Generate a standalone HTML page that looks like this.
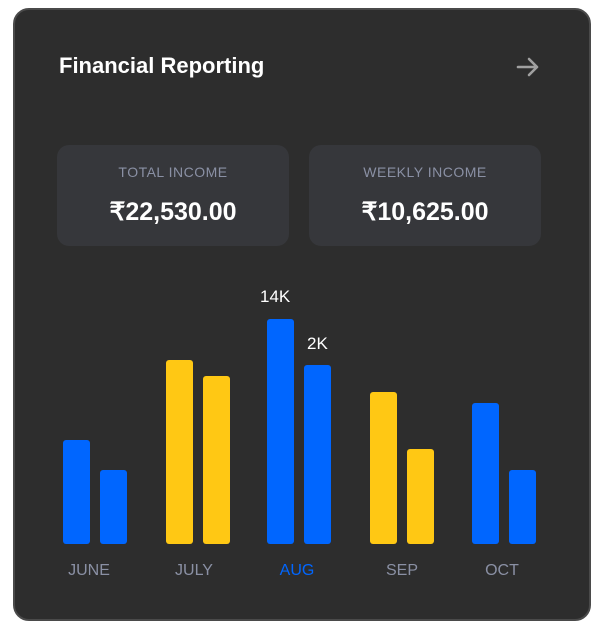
<!DOCTYPE html>
<html><head><meta charset="utf-8"><style>
*{margin:0;padding:0;box-sizing:border-box}
body{width:606px;height:627px;background:#fff;font-family:"Liberation Sans",sans-serif;position:relative;overflow:hidden}
.card{position:absolute;left:13px;top:8px;width:578px;height:613px;background:#2d2d2d;border:2px solid #4a4a4a;border-radius:16px}
.t{position:absolute;color:#fff;white-space:nowrap}
.box{position:absolute;top:145px;width:232px;height:101px;background:#36373b;border-radius:12px}
.lbl{position:absolute;top:164px;width:232px;text-align:center;color:#8a90a4;font-size:14px;letter-spacing:0.5px}
.val{position:absolute;top:197px;width:232px;text-align:center;color:#fff;font-size:25px;font-weight:bold}
.b{position:absolute;width:27px;border-radius:3px;bottom:83px}
.bl{background:#0066ff}.y{background:#ffc814}
.m{position:absolute;top:562px;color:#8a90a4;font-size:16px;width:80px;text-align:center}
</style></head><body>
<div class="card"></div>
<div class="t" style="left:59px;top:53px;font-size:22px;font-weight:bold">Financial Reporting</div>
<svg style="position:absolute;left:515px;top:56px" width="26" height="22" viewBox="0 0 26 22"><path d="M3 11H22M14 3L22 11L14 19" stroke="#a0a0a0" stroke-width="2.6" fill="none" stroke-linecap="round" stroke-linejoin="round"/></svg>
<div class="box" style="left:57px"></div><div class="box" style="left:309px"></div>
<div class="lbl" style="left:57px">TOTAL INCOME</div>
<div class="lbl" style="left:309px">WEEKLY INCOME</div>
<div class="val" style="left:57px">₹22,530.00</div>
<div class="val" style="left:309px">₹10,625.00</div>
<div class="b bl" style="left:63px;top:440px"></div>
<div class="b bl" style="left:100px;top:470px"></div>
<div class="b y" style="left:166px;top:360px"></div>
<div class="b y" style="left:203px;top:376px"></div>
<div class="b bl" style="left:267px;top:319px"></div>
<div class="b bl" style="left:304px;top:365px"></div>
<div class="b y" style="left:370px;top:392px"></div>
<div class="b y" style="left:407px;top:449px"></div>
<div class="b bl" style="left:472px;top:403px"></div>
<div class="b bl" style="left:509px;top:470px"></div>
<div class="t" style="left:260px;top:287px;font-size:17px">14K</div>
<div class="t" style="left:307px;top:334px;font-size:17px">2K</div>
<div class="m" style="left:49px">JUNE</div>
<div class="m" style="left:154px">JULY</div>
<div class="m" style="left:257px;color:#0066ff">AUG</div>
<div class="m" style="left:362px">SEP</div>
<div class="m" style="left:462px">OCT</div>
</body></html>
